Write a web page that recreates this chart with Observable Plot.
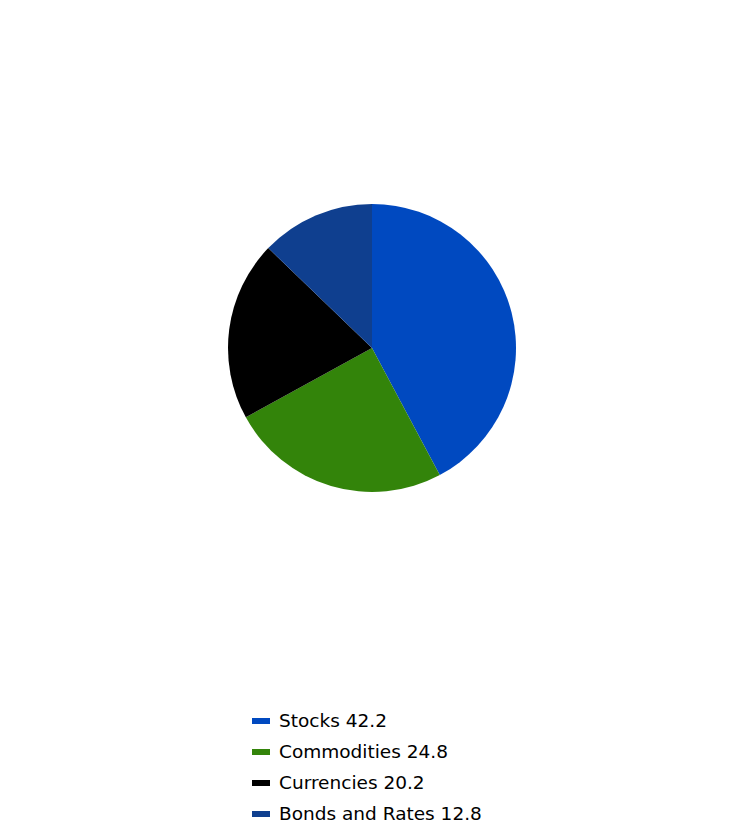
<!DOCTYPE html>
<html>
<head>
<meta charset="utf-8">
<script src="https://cdn.jsdelivr.net/npm/d3@7"></script>
<script src="https://cdn.jsdelivr.net/npm/@observablehq/plot@0.6"></script>
<style>
  html, body { margin: 0; padding: 0; background: #fff; }
  body { width: 744px; height: 828px; overflow: hidden; font-family: "DejaVu Sans", sans-serif; }
  #chart { width: 744px; height: 696px; }
  #legend { position: absolute; left: 252px; top: 705px; }
  .row { display: flex; align-items: center; height: 31px; font-size: 18.5px; color: #000; }
  .sw { width: 18px; height: 6px; margin-right: 9px; }
</style>
</head>
<body>
<div id="chart"></div>
<div id="legend"></div>
<script>
const categories = ["Stocks", "Commodities", "Currencies", "Bonds and Rates"];
const values = [42.2, 24.8, 20.2, 12.8];
const colors = ["#0049C0", "#33840A", "#000000", "#0F3F8F"];

const arcs = d3.pie().sort(null).value(d => d.value)(
  categories.map((c, i) => ({category: c, value: values[i]}))
);
const data = arcs.map(a => ({
  category: a.data.category,
  value: a.data.value,
  startAngle: a.startAngle,
  endAngle: a.endAngle,
  cx: 0,
  cy: 0
}));

const chart = Plot.plot({
  width: 744,
  height: 696,
  margin: 0,
  x: {domain: [-1, 1], range: [228, 516], axis: null},
  y: {domain: [-1, 1], range: [492, 204], axis: null},
  color: {domain: categories, range: colors},
  marks: [
    Plot.dot(data, {
      x: "cx",
      y: "cy",
      fill: "category",
      render(index, scales, vals, dimensions, context) {
        const g = d3.create("svg:g");
        const r = scales.x(1) - scales.x(0);
        const arc = d3.arc().innerRadius(0).outerRadius(r);
        for (const i of index) {
          g.append("path")
            .attr("transform", `translate(${vals.x[i]},${vals.y[i]})`)
            .attr("d", arc({startAngle: data[i].startAngle, endAngle: data[i].endAngle}))
            .attr("fill", vals.fill[i]);
        }
        return g.node();
      }
    })
  ]
});
document.getElementById("chart").appendChild(chart);

const legend = d3.select("#legend");
categories.forEach((c, i) => {
  const row = legend.append("div").attr("class", "row");
  row.append("div").attr("class", "sw").style("background", chart.scale("color").apply(c));
  row.append("span").text(`${c} ${values[i]}`);
});
</script>
</body>
</html>
